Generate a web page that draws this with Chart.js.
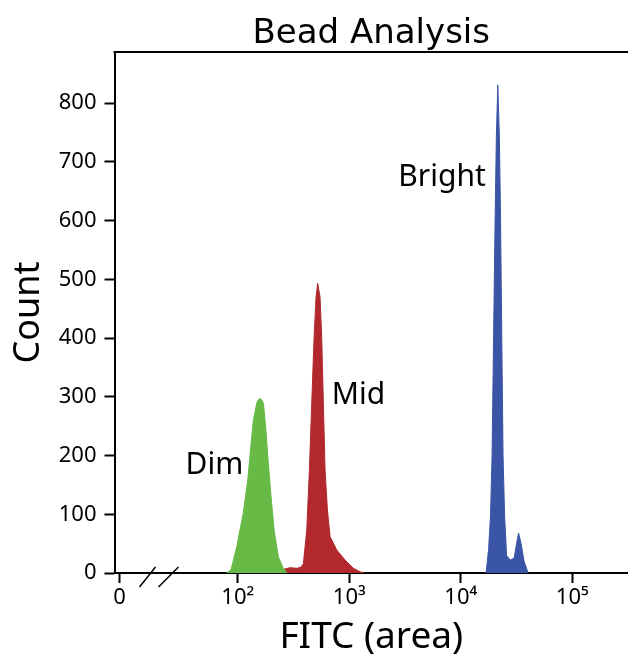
<!DOCTYPE html>
<html>
<head>
<meta charset="utf-8">
<script src="https://cdn.jsdelivr.net/npm/chart.js@4.4.1/dist/chart.umd.min.js"></script>
<style>
  body { margin: 0; background: #fff; }
</style>
</head>
<body>
<canvas id="myChart" width="628" height="655"></canvas>
<script>
const dimFitc = [79, 87, 98, 112, 123, 131, 138, 148, 153, 158, 164, 170, 179, 188, 199, 212, 231, 256, 277];
const dimCount = [0, 5, 45, 102, 158, 215, 260, 289, 295, 297, 295, 289, 243, 187, 130, 73, 28, 8, 0];

const midFitc = [234, 255, 294, 340, 370, 388, 416, 439, 461, 484, 504, 521, 547, 566, 586, 607, 637, 673, 773, 917, 1089, 1250, 1359];
const midCount = [0, 6, 9, 8, 10, 16, 73, 175, 289, 402, 470, 493, 470, 402, 289, 175, 107, 62, 39, 22, 8, 2, 0];

const brightFitc = [16870, 17760, 18500, 19080, 19690, 20310, 20860, 21480, 22190, 22750, 23320, 23950, 24700, 25750, 27680, 30060, 31640, 32990, 34740, 36970, 40160];
const brightCount = [0, 40, 100, 200, 400, 600, 743, 831, 743, 600, 402, 200, 100, 30, 22, 25, 50, 68, 50, 20, 0];

const yTicks = [0, 100, 200, 300, 400, 500, 600, 700, 800];
const xTickValues = [8.7, 100, 1000, 10000, 100000];
const xTickLabels = ['0', '10²', '10³', '10⁴', '10⁵'];

const peakLabels = ['Dim', 'Mid', 'Bright'];
const labelFitc = [34, 697, 2754];
const labelCount = [168, 288, 659];

const font = '"Noto Sans", sans-serif';
const toPoints = (xs, ys) => xs.map((x, i) => ({ x: x, y: ys[i] }));

// top frame line, axis break marks and the peak names
const extras = {
  id: 'extras',
  afterDraw(chart) {
    const { ctx, chartArea, scales } = chart;
    ctx.save();
    ctx.strokeStyle = '#000';
    ctx.lineWidth = 2;
    ctx.beginPath();
    ctx.moveTo(chartArea.left - 1, chartArea.top);
    ctx.lineTo(chartArea.right, chartArea.top);
    ctx.stroke();

    const b = chartArea.bottom;
    const l = chartArea.left;
    ctx.lineWidth = 1.5;
    ctx.beginPath();
    ctx.moveTo(l + 25, b + 14);
    ctx.lineTo(l + 41, b - 6);
    ctx.moveTo(l + 44, b + 14);
    ctx.lineTo(l + 64, b - 6);
    ctx.stroke();

    ctx.fillStyle = '#000';
    ctx.font = '30px ' + font;
    ctx.textBaseline = 'alphabetic';
    peakLabels.forEach((t, i) => {
      ctx.fillText(t, scales.x.getPixelForValue(labelFitc[i]), scales.y.getPixelForValue(labelCount[i]));
    });
    ctx.restore();
  }
};

const axisGrid = { drawOnChartArea: false, tickLength: 10, tickWidth: 2, tickColor: '#000' };
const axisBorder = { color: '#000', width: 2 };

new Chart(document.getElementById('myChart'), {
  type: 'line',
  data: {
    datasets: [
      { label: 'Dim', data: toPoints(dimFitc, dimCount), fill: 'origin', backgroundColor: '#67ba46', borderColor: '#67ba46', borderWidth: 1, pointRadius: 0 },
      { label: 'Mid', data: toPoints(midFitc, midCount), fill: 'origin', backgroundColor: '#b2282c', borderColor: '#b2282c', borderWidth: 1, pointRadius: 0 },
      { label: 'Bright', data: toPoints(brightFitc, brightCount), fill: 'origin', backgroundColor: '#3b55a6', borderColor: '#3b55a6', borderWidth: 1, pointRadius: 0 }
    ]
  },
  options: {
    responsive: false,
    animation: false,
    layout: { padding: 0 },
    plugins: {
      legend: { display: false },
      tooltip: { enabled: false },
      title: {
        display: true,
        fullSize: false,
        text: 'Bead Analysis',
        color: '#000',
        font: { size: 34, weight: 'normal', family: '"DejaVu Sans", sans-serif', lineHeight: 1 },
        padding: { top: 17.5, bottom: 0.5 }
      }
    },
    scales: {
      x: {
        type: 'logarithmic',
        min: 7.85,
        max: 316000,
        afterBuildTicks: s => { s.ticks = xTickValues.map(v => ({ value: v })); },
        afterFit: s => { s.height = 82; },
        grid: axisGrid,
        border: axisBorder,
        ticks: {
          autoSkip: false,
          maxRotation: 0,
          color: '#000',
          padding: 2,
          font: { size: 22, family: font },
          callback: (v, i) => xTickLabels[i]
        },
        title: {
          display: true,
          text: 'FITC (area)',
          color: '#000',
          font: { size: 37, family: font, lineHeight: 0.9 },
          padding: { bottom: 0.5 }
        }
      },
      y: {
        min: 0,
        max: 887,
        afterBuildTicks: s => { s.ticks = yTicks.map(v => ({ value: v })); },
        afterFit: s => { s.width = 114.5; },
        grid: axisGrid,
        border: axisBorder,
        ticks: { color: '#000', padding: 8, font: { size: 22, family: font } },
        title: {
          display: true,
          text: 'Count',
          color: '#000',
          font: { size: 36, family: font },
          padding: { top: 7 }
        }
      }
    }
  },
  plugins: [extras]
});
</script>
</body>
</html>
